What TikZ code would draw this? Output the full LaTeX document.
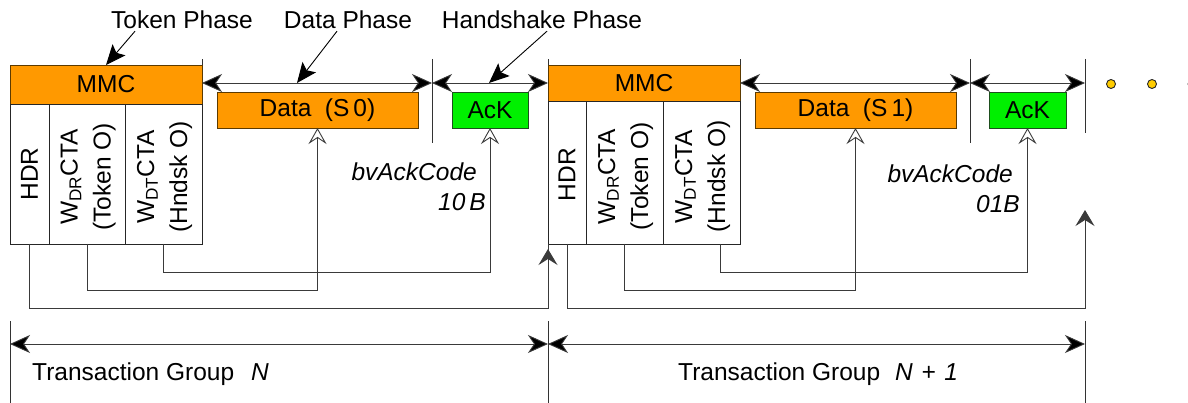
\documentclass[tikz,border=0pt]{standalone}
\usepackage{fontspec}
\setmainfont{Liberation Sans}
\usetikzlibrary{arrows.meta,calc}
\definecolor{mmcorange}{HTML}{FF9900}
\definecolor{ackgreen}{HTML}{00F000}
\definecolor{dotyellow}{HTML}{FFCC00}
\definecolor{orangeedge}{HTML}{5C3A00}
\definecolor{greenedge}{HTML}{1E4F1E}
\definecolor{wire}{HTML}{3A3A3A}

\begin{document}
\begin{tikzpicture}[x=1pt,y=-1pt,
  font=\fontsize{24.5}{33}\selectfont,
  box/.style={draw, line width=0.9pt, inner sep=0pt, outer sep=0pt, anchor=center},
  mmcbox/.style={box, fill=mmcorange, draw=orangeedge, minimum width=192pt},
  databox/.style={box, fill=mmcorange, draw=orangeedge, minimum width=201pt, minimum height=36pt},
  ackbox/.style={box, fill=ackgreen, draw=greenedge, minimum height=36pt},
  colbox/.style={box, fill=white, draw=black!85},
  coltext/.style={rotate=90, align=center, inner sep=0pt},
  lbl/.style={inner sep=0pt},
  wire/.style={draw=wire, line width=0.9pt},
  tick/.style={draw=black!80, line width=1pt},
  dimtip/.tip={Stealth[length=20pt, width=18pt, inset=6pt, fill=black]},
  dim/.style={draw=wire, line width=0.9pt, dimtip-dimtip},
  callout/.style={draw=black, line width=0.9pt, -{Stealth[length=20pt, width=17pt, inset=4pt]}},
  opentip/.style={wire, -{Stealth[open, length=16pt, width=18pt, inset=6pt]}},
  solidtip/.style={wire, -{Stealth[length=16pt, width=19pt, inset=6pt]}},
  dot/.style={fill=dotyellow, draw=black!85, line width=0.9pt}
]
\clip (0,0) rectangle (1188,403);

% ---- group N: token, data and handshake packets
\node[mmcbox, minimum height=39pt] (mmc1) at (106,84.5) {MMC};
\node[colbox, minimum width=39pt, minimum height=140pt] (hdr1) at (29.5,174) {};
\node[colbox, minimum width=76pt, minimum height=140pt] (tok1) at (87,174) {};
\node[colbox, minimum width=77pt, minimum height=140pt] (hs1) at (163.5,174) {};
\node[coltext] at (hdr1.center) {HDR};
\node[coltext] at ($(tok1.center)+(1,3)$) {W\textsubscript{DR}CTA\\(Token O)};
\node[coltext] at ($(hs1.center)+(1,3)$) {W\textsubscript{DT}CTA\\(Hndsk O)};
\node[databox] (data1) at (317.5,110) {Data\hspace{0.55em}(S\,0)};
\node[ackbox, minimum width=76pt] (ack1) at (490,110) {AcK};

% ---- group N+1
\node[mmcbox, minimum height=36pt] (mmc2) at (644,83) {MMC};
\node[colbox, minimum width=38pt, minimum height=143pt] (hdr2) at (567,172.5) {};
\node[colbox, minimum width=77pt, minimum height=143pt] (tok2) at (624.5,172.5) {};
\node[colbox, minimum width=77pt, minimum height=143pt] (hs2) at (701.5,172.5) {};
\node[coltext] at ($(hdr2.center)+(0,2)$) {HDR};
\node[coltext] at ($(tok2.center)+(1,4)$) {W\textsubscript{DR}CTA\\(Token O)};
\node[coltext] at ($(hs2.center)+(1,4)$) {W\textsubscript{DT}CTA\\(Hndsk O)};
\node[databox] (data2) at (855.5,110) {Data\hspace{0.55em}(S\,1)};
\node[ackbox, minimum width=77pt] (ack2) at (1027.5,110) {AcK};

% ---- phase boundaries and spans
\coordinate (dy) at (0,83);
\coordinate (ta) at (432,59);
\coordinate (tb) at (970,59);
\coordinate (tc) at (1085,59);
\draw[tick] (mmc1.north east) -- ++(0,-6);
\draw[tick] (mmc2.north west) -- ++(0,-6);
\draw[tick] (mmc2.north east) -- ++(0,-6);
\draw[tick] (ta) -- ++(0,84);
\draw[tick] (tb) -- ++(0,84);
\draw[tick] (tc) -- ++(0,74);
\draw[dim] (mmc1.east |- dy) -- (ta |- dy);
\draw[dim] (ta |- dy) -- (mmc2.west |- dy);
\draw[dim] (mmc2.east |- dy) -- (tb |- dy);
\draw[dim] (tb |- dy) -- (tc |- dy);

% ---- phase labels
\node[lbl] (tp) at (182,20) {Token Phase};
\node[lbl] (dp) at (348,20) {Data Phase};
\node[lbl] (hp) at (542,20) {Handshake Phase};
\draw[callout] ($(tp.south)+(-47,2)$) -- (mmc1.north);
\draw[callout] ($(dp.south)+(-11,2)$) -- (297,83);
\draw[callout] ($(hp.south)+(5,2)$) -- (489,83);

% ---- continuation dots
\draw[dot] (1111,84) circle (4.5);
\draw[dot] (1152,84) circle (4.5);
\draw[dot] (1192.5,84) circle (4.5);

% ---- timeout connectors
\coordinate (y1) at (0,308);
\coordinate (y2) at (0,290);
\coordinate (y3) at (0,272);
\draw[wire] (hdr1.south) |- (hdr2.south west |- y1) -- (hdr2.south west);
\draw[solidtip] (hdr2.south west |- y1) -- ($(hdr2.south west)+(0,5)$);
\draw[opentip] (tok1.south) |- (data1.south |- y2) -- (data1.south);
\draw[opentip] (hs1.south) |- (ack1.south |- y3) -- (ack1.south);
\coordinate (nx) at (1085,210);
\draw[solidtip] (hdr2.south) |- (nx |- y1) -- (nx);
\draw[opentip] (tok2.south) |- (data2.south |- y2) -- (data2.south);
\coordinate (hs2o) at ($(hs2.south)+(18.5,0)$);
\draw[opentip] (hs2o) |- (ack2.south |- y3) -- (ack2.south);

% ---- acknowledge codes
\node[lbl, anchor=east] at (477,172) {\itshape bvAckCode};
\node[lbl, anchor=east] at (486,202) {\itshape 10\,B};
\node[lbl, anchor=east] at (1013,174) {\itshape bvAckCode};
\node[lbl, anchor=east] at (1020,204) {\itshape 01B};

% ---- transaction groups
\coordinate (b0) at (10,321);
\coordinate (b1) at (548,321);
\coordinate (b2) at (1085,321);
\coordinate (gy) at (0,344);
\draw[tick] (b0) -- ++(0,82);
\draw[tick] (b1) -- ++(0,82);
\draw[tick] (b2) -- ++(0,82);
\draw[dim] (b0 |- gy) -- (b1 |- gy);
\draw[dim] (b1 |- gy) -- (b2 |- gy);
\node[lbl, anchor=base west] at (32,380) {Transaction Group};
\node[lbl, anchor=base west] at (251,380) {\itshape N};
\node[lbl, anchor=base west] at (678,380) {Transaction Group};
\node[lbl, anchor=base west] at (895,380) {\itshape N\hspace{0.35em}+\hspace{0.35em}1};
\end{tikzpicture}
\end{document}
